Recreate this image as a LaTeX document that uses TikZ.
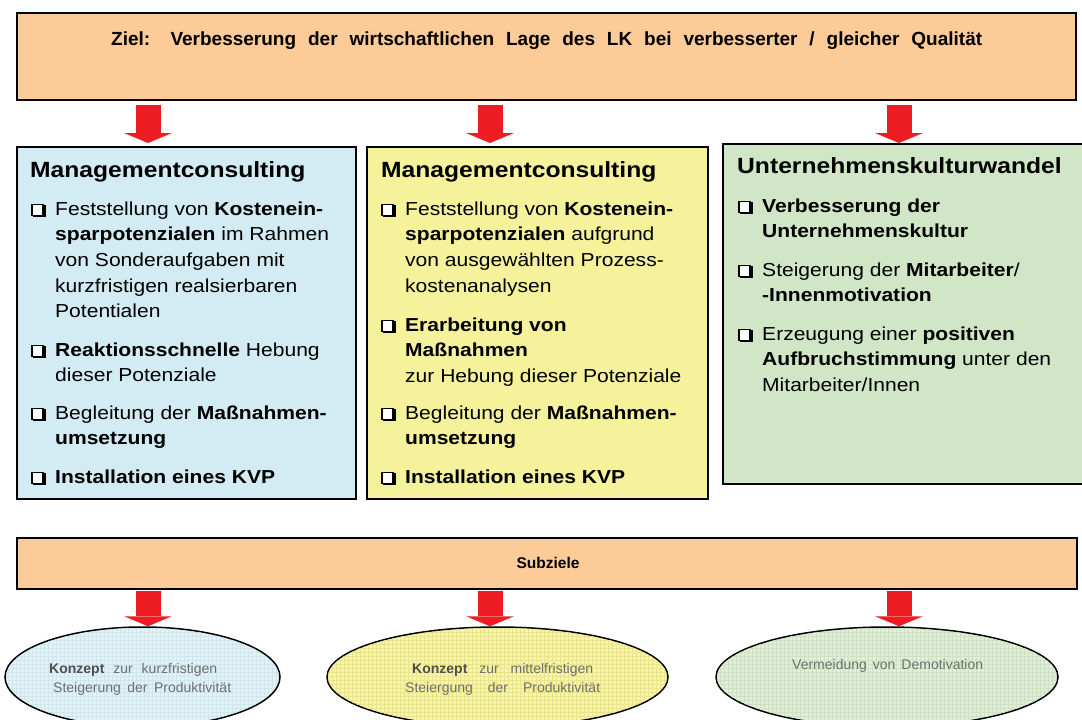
\documentclass[tikz,border=0pt]{standalone}
\usepackage{fontspec}
\setmainfont[FakeStretch=1.12]{Liberation Sans}
\newfontfamily\plainsans{Liberation Sans}
\usetikzlibrary{shapes.geometric,arrows.meta,shadows}
\definecolor{orangebg}{HTML}{FCCB98}
\definecolor{bluebg}{HTML}{D3EBF3}
\definecolor{yellowbg}{HTML}{F6F29B}
\definecolor{greenbg}{HTML}{D1E6C6}
\definecolor{ellblue}{HTML}{E3F2F7}
\definecolor{gridblue}{HTML}{CFE6EE}
\definecolor{ellyellow}{HTML}{F8F5A9}
\definecolor{gridyellow}{HTML}{EAE58C}
\definecolor{ellgreen}{HTML}{E1EFD9}
\definecolor{gridgreen}{HTML}{CDE2C2}
\definecolor{arrowred}{HTML}{EE1D23}
\definecolor{etextgray}{HTML}{6E6E6E}
\definecolor{konzgray}{HTML}{4E4E4E}
\newcommand\cbx{\makebox[24pt][l]{\rlap{\hspace{2pt}\rule[-2pt]{12.5pt}{12.5pt}}{\setlength\fboxsep{0pt}\setlength\fboxrule{1.3pt}\fcolorbox{black}{white}{\rule{0pt}{9.9pt}\rule{9.9pt}{0pt}}}}}
\newcommand\itm[1]{\cbx\begin{tabular}[t]{@{}l@{}}#1\end{tabular}}
\begin{document}
\begin{tikzpicture}[x=1pt,y=-1pt,
  box/.style={draw=black, line width=1.6pt, anchor=north west, inner sep=0pt,
    drop shadow={shadow xshift=1.5pt, shadow yshift=-1.5pt, fill=black!45, opacity=1}},
  boxtitle/.style={anchor=base west, inner sep=0pt, font=\bfseries\fontsize{22}{26}\selectfont},
  item/.style={anchor=base west, inner sep=0pt, font=\fontsize{18.8}{25.7}\selectfont},
  ell/.style={ellipse, draw=black, line width=1.5pt, inner sep=0pt, minimum height=100pt},
  etext/.style={anchor=base west, inner sep=0pt, text=etextgray, font=\plainsans\fontsize{14}{14}\selectfont},
  bigarrow/.style={draw=arrowred, line width=25pt, -{Triangle[width=48pt,length=10pt,line width=0pt]}}
]
\clip (0,0) rectangle (1082,720);
\fill[white] (0,0) rectangle (1082,720);

% top goal box
\node[box, fill=orangebg, minimum width=1059pt, minimum height=87pt] (goal) at (16,12) {};
\node[anchor=base west, inner sep=0pt, font=\plainsans\bfseries\fontsize{19}{19}\selectfont] (goalt) at (111,45)
  {\makebox[871pt][s]{Ziel: Verbesserung der wirtschaftlichen Lage des LK bei verbesserter / gleicher Qualität}};

% three boxes
\node[box, fill=bluebg, minimum width=339pt, minimum height=352pt] (box1) at (16,146) {};
\node[box, fill=yellowbg, minimum width=341pt, minimum height=352pt] (box2) at (366,146) {};
\node[box, fill=greenbg, minimum width=380pt, minimum height=340pt] (box3) at (722,143) {};

% box 1 text
\node[boxtitle] (t1) at (30,177) {Managementconsulting};
\node[item] (b1i1) at (31,215) {\itm{Feststellung von \textbf{Kostenein-}\\\textbf{sparpotenzialen} im Rahmen\\von Sonderaufgaben mit\\kurzfristigen realsierbaren\\Potentialen}};
\node[item] (b1i2) at (31,356) {\itm{\textbf{Reaktionsschnelle} Hebung\\dieser Potenziale}};
\node[item] (b1i3) at (31,419) {\itm{Begleitung der \textbf{Maßnahmen-}\\\textbf{umsetzung}}};
\node[item] (b1i4) at (31,483) {\itm{\textbf{Installation eines KVP}}};

% box 2 text
\node[boxtitle] (t2) at (381,177) {Managementconsulting};
\node[item] (b2i1) at (381,215) {\itm{Feststellung von \textbf{Kostenein-}\\\textbf{sparpotenzialen} aufgrund\\von ausgewählten Prozess-\\kostenanalysen}};
\node[item] (b2i2) at (381,331) {\itm{\textbf{Erarbeitung von}\\\textbf{Maßnahmen}\\zur Hebung dieser Potenziale}};
\node[item] (b2i3) at (381,419) {\itm{Begleitung der \textbf{Maßnahmen-}\\\textbf{umsetzung}}};
\node[item] (b2i4) at (381,483) {\itm{\textbf{Installation eines KVP}}};

% box 3 text
\node[boxtitle] (t3) at (737,173) {Unternehmenskulturwandel};
\node[item] (b3i1) at (738,212) {\itm{\textbf{Verbesserung der}\\\textbf{Unternehmenskultur}}};
\node[item] (b3i2) at (738,276) {\itm{Steigerung der \textbf{Mitarbeiter}/\\\textbf{-Innenmotivation}}};
\node[item] (b3i3) at (738,340) {\itm{Erzeugung einer \textbf{positiven}\\\textbf{Aufbruchstimmung} unter den\\Mitarbeiter/Innen}};

% Subziele bar
\node[box, fill=orangebg, minimum width=1060pt, minimum height=51pt] (sub) at (16,537) {};
\node[inner sep=0pt, font=\plainsans\bfseries\fontsize{15.5}{15.5}\selectfont] (subt) at (548,563) {Subziele};

% ellipses
\node[ell, fill=ellblue, minimum width=275pt] (e1) at (142.5,677) {};
\begin{scope}
  \clip (e1.center) ellipse [x radius=136pt, y radius=49pt];
  \draw[gridblue, line width=0.4pt, step=4pt] (5,627) grid (281,727);
\end{scope}
\node[ell, fill=ellyellow, minimum width=341pt] (e2) at (497.5,677) {};
\begin{scope}
  \clip (e2.center) ellipse [x radius=169.5pt, y radius=49pt];
  \draw[gridyellow, line width=0.4pt, step=4pt] (326,627) grid (669,727);
\end{scope}
\node[ell, fill=ellgreen, minimum width=342pt] (e3) at (887,677) {};
\begin{scope}
  \clip (e3.center) ellipse [x radius=170pt, y radius=49pt];
  \draw[gridgreen, line width=0.4pt, step=4pt] (715,627) grid (1059,727);
\end{scope}

\node[etext] (e1a) at (49,673) {\makebox[168pt][s]{{\color{konzgray}\textbf{Konzept}} zur kurzfristigen}};
\node[etext] (e1b) at (53,692) {\makebox[178pt][s]{Steigerung der Produktivität}};
\node[etext] (e2a) at (412,673) {\makebox[181pt][s]{{\color{konzgray}\textbf{Konzept}} zur mittelfristigen}};
\node[etext] (e2b) at (405,692) {\makebox[195pt][s]{Steiergung der Produktivität}};
\node[etext] (e3a) at (792,669) {\makebox[191pt][s]{Vermeidung von Demotivation}};

% arrow x positions
\coordinate (ax1) at (148,0);
\coordinate (ax2) at (490,0);
\coordinate (ax3) at (899,0);

% top arrows
\draw[bigarrow, shorten <=4pt, shorten >=3pt] (goal.south -| ax1) -- (box1.north -| ax1);
\draw[bigarrow, shorten <=4pt, shorten >=3pt] (goal.south -| ax2) -- (box2.north -| ax2);
\draw[bigarrow, shorten <=4pt] (goal.south -| ax3) -- (box3.north -| ax3);

% bottom arrows
\draw[bigarrow, shorten <=1pt] (sub.south -| ax1) -- (e1.north -| ax1);
\draw[bigarrow, shorten <=1pt] (sub.south -| ax2) -- (e2.north -| ax2);
\draw[bigarrow, shorten <=1pt] (sub.south -| ax3) -- (e3.north -| ax3);
\end{tikzpicture}
\end{document}
